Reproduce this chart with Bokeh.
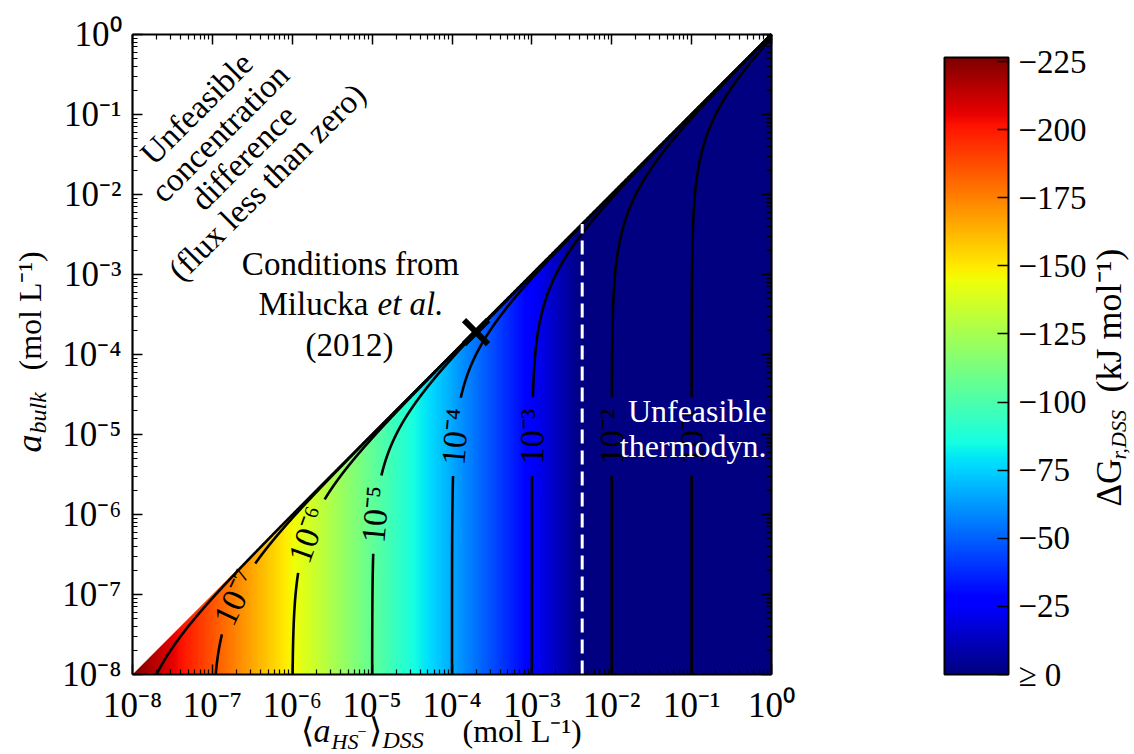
import numpy as np
from bokeh.plotting import figure
from bokeh.models import (Range1d, LogAxis, LinearAxis, FixedTicker, LinearColorMapper, Label,
                          LinearScale)
from bokeh.embed import file_html
from bokeh.resources import INLINE

# ---------------- data ----------------
# Gibbs energy of reaction, dG_r,DSS (kJ/mol), along log10 <a_HS->_DSS (no a_bulk dependence)
dg_log_a_hs = [-8.0, -7.0, -6.0, -5.0, -4.0, -3.0, -2.37]
dg_kj = [-226.5, -186.0, -146.0, -106.0, -66.0, -26.0, 0.0]

# flux contour levels (flux = <a_HS->_DSS - a_bulk)
flux_levels = [1e-8, 1e-7, 1e-6, 1e-5, 1e-4, 1e-3, 1e-2, 1e-1]
flux_level_labels = ["", "10⁻⁷", "10⁻⁶", "10⁻⁵", "10⁻⁴", "10⁻³", "10⁻²", "10⁻¹"]

# Milucka et al. (2012) conditions
milucka_a_hs = [2.0e-4]
milucka_a_bulk = [1.9e-4]

# tick values / labels
decade_ticks = [1e-8, 1e-7, 1e-6, 1e-5, 1e-4, 1e-3, 1e-2, 1e-1, 1.0]
decade_tick_labels = ["10⁻⁸", "10⁻⁷", "10⁻⁶", "10⁻⁵", "10⁻⁴", "10⁻³", "10⁻²", "10⁻¹", "10⁰"]
cbar_ticks = [0, -25, -50, -75, -100, -125, -150, -175, -200, -225]
cbar_tick_labels = ["≥ 0", "−25", "−50", "−75", "−100", "−125", "−150", "−175", "−200", "−225"]

# ---------------- layout / style ----------------
FONT = "Liberation Serif"
W, H = 1134, 754
BOX_L, BOX_R, BOX_T, BOX_B = 132, 771, 34, 674      # data box on the page
CB_L, CB_R, CB_T, CB_B = 944, 1008, 57, 674        # colour bar on the page
XD = (BOX_R - BOX_L) / 8.0                          # px per decade
YD = (BOX_B - BOX_T) / 8.0
label_a_bulk = [None, 9.2e-8, 5.6e-7, 1e-6, 9.4e-6, 9.4e-6, 9.4e-6, 9.4e-6]
GAP = 39
BASE_SHIFT = 0.38   # renderer places the alphabetic baseline this many em lower


def jet_palette(n=256):
    t = np.linspace(0, 1, n)
    r = np.interp(t, [0, 0.35, 0.66, 0.89, 1], [0, 0, 1, 1, 0.5])
    g = np.interp(t, [0, 0.125, 0.375, 0.64, 0.91, 1], [0, 0, 1, 1, 0, 0])
    b = np.interp(t, [0, 0.11, 0.34, 0.65, 1], [0.5, 1, 1, 0, 0])
    return ["#%02x%02x%02x" % (int(round(255 * a)), int(round(255 * c)), int(round(255 * d)))
            for a, c, d in zip(r, g, b)]


jet_r = jet_palette()[::-1]
mapper = LinearColorMapper(palette=jet_r, low=dg_kj[0], high=0.0)

cb_top = -dg_kj[0]
cb_ppu = (CB_B - CB_T) / cb_top

p = figure(x_axis_type="log", y_axis_type="log",
           x_range=Range1d(10 ** (-8 - BOX_L / XD), 10 ** (-8 + (W - BOX_L) / XD)),
           y_range=Range1d(10 ** (-8 - (H - BOX_B) / YD), 10 ** (-8 + BOX_B / YD)),
           frame_width=W, frame_height=H, min_border=0,
           x_axis_location=None, y_axis_location=None,
           output_backend="svg", toolbar_location=None)
p.grid.visible = False
p.outline_line_color = None
p.background_fill_color = "white"
p.border_fill_color = "white"
p.extra_x_ranges = {"cbx": Range1d(-CB_L / (CB_R - CB_L), (W - CB_L) / (CB_R - CB_L))}
p.extra_y_ranges = {"cb": Range1d(-(H - CB_B) / cb_ppu, CB_B / cb_ppu)}
p.extra_x_scales = {"cbx": LinearScale()}
p.extra_y_scales = {"cb": LinearScale()}


def txt(px, py, text, size, italic=False, angle=0.0, align="left",
        baseline="alphabetic", color="black"):
    sx, sy = px, H - py
    if baseline == "alphabetic":
        sx -= BASE_SHIFT * size * np.sin(angle)
        sy += BASE_SHIFT * size * np.cos(angle)
    p.add_layout(Label(x=float(sx), y=float(sy), x_units="screen", y_units="screen",
                       text=text, angle=angle, text_font=FONT, text_font_size=f"{size}px",
                       text_font_style="italic" if italic else "normal",
                       text_align=align, text_baseline=baseline, text_color=color))


# ---------------- dG field ----------------
NX = 640
centers = -8 + (np.arange(NX) + 0.5) * 8.0 / NX
dg_row = np.interp(centers, dg_log_a_hs, dg_kj)
field = np.vstack([dg_row, dg_row])
p.image(image=[field], x=1e-8, y=1e-8, dw=1 - 1e-8, dh=1 - 1e-8, color_mapper=mapper)

# unfeasible region (a_bulk > a_HS-)
p.patch(x=[1e-8, 1.0, 1e-8], y=[1e-8, 1.0, 1.0], fill_color="white", line_alpha=0)

# ---------------- flux contours ----------------
for L, lab, yl in zip(flux_levels, flux_level_labels, label_a_bulk):
    ly = np.linspace(-8, np.log10(1 - L), 1500)
    yy = 10 ** ly
    xx = yy + L
    if lab:
        xl = yl + L
        sxl = (np.log10(xl) + 8) * XD
        syl = (np.log10(yl) + 8) * YD
        d = np.hypot((np.log10(xx) + 8) * XD - sxl, (ly + 8) * YD - syl)
        xx = np.where(d < GAP, np.nan, xx)
        yy = np.where(d < GAP, np.nan, yy)
        ang = float(np.arctan2(YD * xl, XD * yl))
        p.add_layout(Label(x=xl, y=yl, text=lab, angle=ang, text_align="center",
                           text_baseline="middle", text_font=FONT, text_font_size="34px",
                           text_color="black"))
    p.line(xx, yy, line_color="black", line_width=2.6)

# dG = 0 boundary
x0 = 10 ** dg_log_a_hs[-1]
p.line([x0, x0], [1e-8, x0], line_color="white", line_width=3, line_dash="14 7")

# Milucka et al. point
p.scatter(milucka_a_hs, milucka_a_bulk, marker="x", size=34, line_width=6, line_color="black")

# ---------------- axes (drawn at the data box edges) ----------------
minor = [m * t for t in decade_ticks[:-1] for m in range(2, 10)]


def box_axis(side, loc, labels):
    ax = LogAxis(fixed_location=loc, bounds=(1e-8, 1.0))
    ax.ticker = FixedTicker(ticks=decade_ticks, minor_ticks=minor)
    ax.major_tick_in = 10
    ax.major_tick_out = 0
    ax.minor_tick_in = 5
    ax.minor_tick_out = 0
    ax.major_tick_line_width = 1.5
    ax.minor_tick_line_width = 1.2
    ax.axis_line_width = 2.2
    if labels:
        ax.major_label_overrides = dict(zip(decade_ticks, decade_tick_labels))
        ax.major_label_text_font = FONT
        ax.major_label_text_font_size = "35px"
        ax.major_label_text_color = "black"
        ax.major_label_standoff = 11
    else:
        ax.major_label_text_color = None
    p.add_layout(ax, side)


box_axis("below", 1e-8, True)
box_axis("left", 1e-8, True)
box_axis("above", 1.0, False)
box_axis("right", 1.0, False)

# ---------------- colour bar ----------------
col = np.linspace(0.0, dg_kj[0], 256)
p.image(image=[np.repeat(col[:, None], 2, axis=1)], x=0, y=0, dw=1, dh=cb_top,
        color_mapper=mapper, x_range_name="cbx", y_range_name="cb")
p.quad(left=0, right=1, bottom=0, top=cb_top, fill_alpha=0, line_color="black", line_width=2,
       x_range_name="cbx", y_range_name="cb")
cax = LinearAxis(x_range_name="cbx", y_range_name="cb", fixed_location=1.0, bounds=(0, cb_top))
cax.ticker = FixedTicker(ticks=[-t for t in cbar_ticks], minor_ticks=[])
cax.major_label_overrides = {-t: s for t, s in zip(cbar_ticks, cbar_tick_labels)}
cax.major_tick_in = 11
cax.major_tick_out = 0
cax.major_tick_line_width = 1.5
cax.minor_tick_in = 0
cax.minor_tick_out = 0
cax.axis_line_alpha = 0
cax.major_label_text_font = FONT
cax.major_label_text_font_size = "33px"
cax.major_label_text_color = "black"
cax.major_label_standoff = 10
p.add_layout(cax, "right")

# ---------------- annotations ----------------
for i, line in enumerate(["Unfeasible", "concentration", "difference", "(flux less than zero)"]):
    txt(196 + i * 23.5, 108 + i * 24.5, line, 33, angle=np.pi / 4, align="center",
        baseline="middle")
txt(350, 276, "Conditions from", 33, align="center")
txt(258, 316, "Milucka ", 33)
txt(377, 316, "et al.", 33, italic=True)
txt(349, 357, "(2012)", 33, align="center")
txt(766, 423, "Unfeasible", 32, align="right", color="white")
txt(766, 458, "thermodyn.", 32, align="right", color="white")

# x-axis title  <a_{HS-}>_{DSS} (mol L-1)
XB = 743
txt(300, XB, "⟨", 34)
txt(313, XB, "a", 34, italic=True)
txt(331, XB + 6, "HS", 22, italic=True)
txt(357, XB - 6, "−", 16)
txt(368, XB, "⟩", 34)
txt(382, XB + 6, "DSS", 24, italic=True)
txt(462, XB, "(mol L⁻¹)", 32)

# y-axis title  a_bulk (mol L-1)
txt(42, 452, "a", 36, italic=True, angle=np.pi / 2)
txt(47, 433, "bulk", 24, italic=True, angle=np.pi / 2)
txt(42, 370, "(mol L⁻¹)", 32, angle=np.pi / 2)

# colour bar title  dG_{r,DSS} (kJ mol-1)
txt(1122, 506, "ΔG", 35, angle=np.pi / 2)
txt(1126, 459, "r,DSS", 22, italic=True, angle=np.pi / 2)
txt(1122, 392, "(kJ mol⁻¹)", 36, angle=np.pi / 2)

open("out.html", "w").write(file_html(p, INLINE))
